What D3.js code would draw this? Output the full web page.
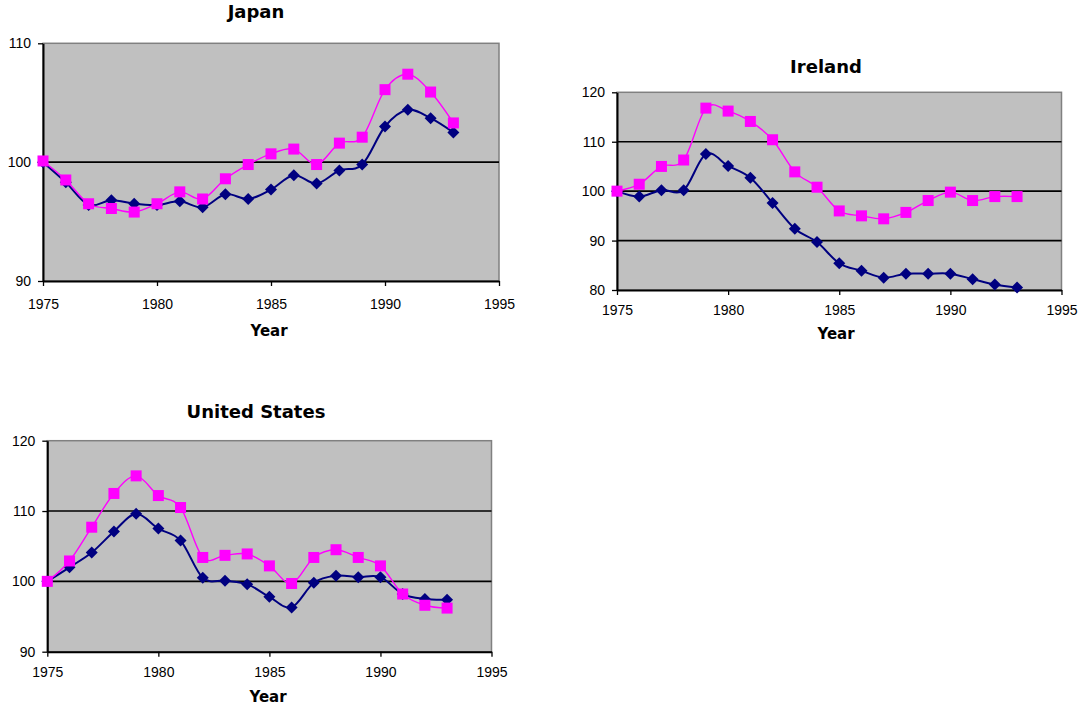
<!DOCTYPE html>
<html>
<head>
<meta charset="utf-8">
<script src="https://cdn.jsdelivr.net/npm/d3@7"></script>
<style>
  body { margin: 0; background: #fff; }
  svg text { font-family: "Liberation Sans", Arial, sans-serif; }
  .title, .xlabel { font-family: "DejaVu Sans", Verdana, sans-serif !important; font-weight: bold; }
</style>
</head>
<body>
<svg id="chart" width="1085" height="709"></svg>
<script>
// Years on the horizontal axis
const years = [1975, 1976, 1977, 1978, 1979, 1980, 1981, 1982, 1983, 1984,
               1985, 1986, 1987, 1988, 1989, 1990, 1991, 1992, 1993];
const xTicks = [1975, 1980, 1985, 1990, 1995];

// Japan (index, 1975 = 100)
const japanNavy = [100.0, 98.3, 96.4, 96.8, 96.5, 96.4, 96.7, 96.2, 97.3, 96.9,
                   97.7, 98.9, 98.2, 99.3, 99.8, 103.0, 104.4, 103.7, 102.5];
const japanPink = [100.1, 98.5, 96.5, 96.1, 95.8, 96.5, 97.5, 96.9, 98.6, 99.8,
                   100.7, 101.1, 99.8, 101.6, 102.1, 106.1, 107.4, 105.9, 103.3];
const japanYTicks = [90, 100, 110];

// Ireland
const irelandNavy = [100.0, 98.9, 100.2, 100.2, 107.5, 105.1, 102.7, 97.6, 92.4, 89.7,
                     85.4, 83.9, 82.5, 83.3, 83.3, 83.3, 82.2, 81.1, 80.5];
const irelandPink = [100.0, 101.4, 105.0, 106.3, 116.8, 116.2, 114.1, 110.4, 103.9, 100.8,
                     96.0, 95.0, 94.4, 95.7, 98.1, 99.8, 98.1, 98.9, 98.9];
const irelandYTicks = [80, 90, 100, 110, 120];

// United States
const usNavy = [100.0, 102.0, 104.1, 107.1, 109.6, 107.5, 105.8, 100.5, 100.1, 99.6,
                97.8, 96.3, 99.8, 100.8, 100.6, 100.6, 98.2, 97.5, 97.4];
const usPink = [100.0, 102.9, 107.7, 112.5, 115.0, 112.2, 110.5, 103.4, 103.7, 103.9,
                102.2, 99.7, 103.4, 104.5, 103.4, 102.2, 98.2, 96.6, 96.2];
const usYTicks = [90, 100, 110, 120];

// Layout of each panel on the page
const panels = [
  { title: "Japan", navy: japanNavy, pink: japanPink, yTicks: japanYTicks,
    left: 43, right: 499, top: 43.3, bottom: 281, titleX: 256, titleY: 18,
    yearX: 269, yearY: 336, xPad: 13 },
  { title: "Ireland", navy: irelandNavy, pink: irelandPink, yTicks: irelandYTicks,
    left: 617, right: 1061.5, top: 92.3, bottom: 290, titleX: 826, titleY: 73,
    yearX: 836, yearY: 339, xPad: 10 },
  { title: "United States", navy: usNavy, pink: usPink, yTicks: usYTicks,
    left: 47.3, right: 491.5, top: 440.7, bottom: 651.7, titleX: 256, titleY: 418,
    yearX: 268, yearY: 702, xPad: 10 }
];

const svg = d3.select("#chart");
const NAVY = "#000080", PINK = "#ff00ff", PLOT_BG = "#c0c0c0";

panels.forEach(p => {
  const g = svg.append("g");
  const x = d3.scaleLinear().domain([xTicks[0], xTicks[xTicks.length - 1]]).range([p.left, p.right]);
  const y = d3.scaleLinear().domain(d3.extent(p.yTicks)).range([p.bottom, p.top]);

  // plot area
  g.append("rect")
    .attr("x", p.left).attr("y", p.top)
    .attr("width", p.right - p.left).attr("height", p.bottom - p.top)
    .attr("fill", PLOT_BG).attr("stroke", "#808080").attr("stroke-width", 1.5);

  // horizontal gridlines at inner ticks
  g.selectAll("line.grid")
    .data(p.yTicks.slice(1, -1))
    .join("line")
    .attr("class", "grid")
    .attr("x1", p.left).attr("x2", p.right)
    .attr("y1", d => y(d)).attr("y2", d => y(d))
    .attr("stroke", "#000").attr("stroke-width", 1.6);

  // axes
  const xAxis = g.append("g")
    .attr("transform", `translate(0,${p.bottom})`)
    .call(d3.axisBottom(x).tickValues(xTicks).tickFormat(d3.format("d"))
      .tickSize(5).tickSizeOuter(0).tickPadding(p.xPad));
  const yAxis = g.append("g")
    .attr("transform", `translate(${p.left},0)`)
    .call(d3.axisLeft(y).tickValues(p.yTicks).tickSize(5).tickSizeOuter(0).tickPadding(7));
  [xAxis, yAxis].forEach(a => {
    a.select(".domain").attr("stroke", "#000").attr("stroke-width", 2);
    a.selectAll(".tick line").attr("stroke", "#000").attr("stroke-width", 1.3);
    a.selectAll("text").attr("fill", "#000").style("font-size", "14px");
  });

  const line = d3.line()
    .x((d, i) => x(years[i]))
    .y(d => y(d))
    .curve(d3.curveCardinal.tension(0));

  // navy series with diamond markers
  g.append("path").datum(p.navy)
    .attr("d", line).attr("fill", "none")
    .attr("stroke", NAVY).attr("stroke-width", 2);
  g.selectAll("path.diamond")
    .data(p.navy)
    .join("path")
    .attr("class", "diamond")
    .attr("transform", (d, i) => `translate(${x(years[i])},${y(d)})`)
    .attr("d", "M0,-6L6,0L0,6L-6,0Z")
    .attr("fill", NAVY);

  // magenta series with square markers
  g.append("path").datum(p.pink)
    .attr("d", line).attr("fill", "none")
    .attr("stroke", PINK).attr("stroke-width", 1.4);
  g.selectAll("rect.square")
    .data(p.pink)
    .join("rect")
    .attr("class", "square")
    .attr("x", (d, i) => x(years[i]) - 5.5)
    .attr("y", d => y(d) - 5.5)
    .attr("width", 11).attr("height", 11)
    .attr("fill", PINK);

  // titles
  g.append("text").attr("class", "title")
    .attr("x", p.titleX).attr("y", p.titleY)
    .attr("text-anchor", "middle")
    .style("font-size", "18px")
    .text(p.title);
  g.append("text").attr("class", "xlabel")
    .attr("x", p.yearX).attr("y", p.yearY)
    .attr("text-anchor", "middle")
    .style("font-size", "15px")
    .text("Year");
});
</script>
</body>
</html>
